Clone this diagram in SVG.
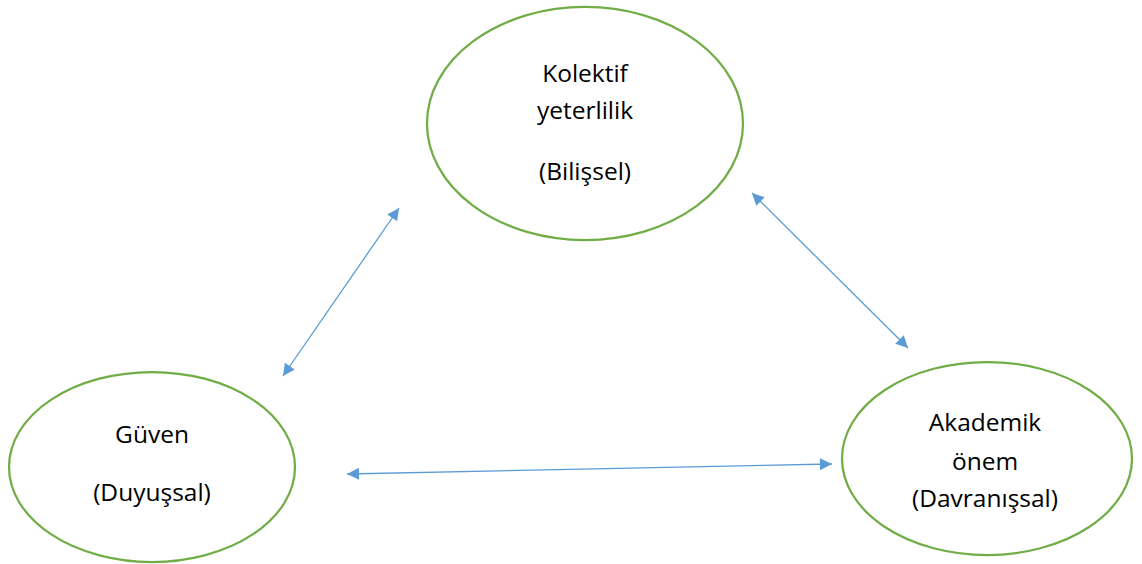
<svg xmlns="http://www.w3.org/2000/svg" width="1142" height="564" viewBox="0 0 1142 564">
<style>
.node{fill:#ffffff;stroke:#70AD47;stroke-width:2.25}
.lbl{font-family:"Open Sans","Liberation Sans",sans-serif;font-size:24.5px;fill:#000000;text-anchor:middle}
.conn{stroke:#5B9BD5;stroke-width:1.3;fill:none}
</style>
<defs>
<marker id="ah" viewBox="0 0 10 10" refX="10" refY="5" markerWidth="15" markerHeight="12" markerUnits="userSpaceOnUse" orient="auto-start-reverse">
<path d="M0,0 L10,5 L0,10 Z" fill="#5B9BD5"/>
</marker>
</defs>
<rect width="1142" height="564" fill="#ffffff"/>
<g id="node-kolektif">
<ellipse class="node" cx="585" cy="123.5" rx="158" ry="116.5"/>
<text class="lbl" x="585" y="82">Kolektif</text>
<text class="lbl" x="585" y="119">yeterlilik</text>
<text class="lbl" x="585" y="180">(Bilişsel)</text>
</g>
<g id="node-guven">
<ellipse class="node" cx="152" cy="467" rx="143" ry="95"/>
<text class="lbl" x="152" y="443">Güven</text>
<text class="lbl" x="152" y="501">(Duyuşsal)</text>
</g>
<g id="node-akademik">
<ellipse class="node" cx="987" cy="458.5" rx="145" ry="96.5"/>
<text class="lbl" x="985" y="431">Akademik</text>
<text class="lbl" x="985" y="470">önem</text>
<text class="lbl" x="985" y="507">(Davranışsal)</text>
</g>
<g id="connectors">
<line class="conn" x1="283" y1="376" x2="399" y2="208" marker-start="url(#ah)" marker-end="url(#ah)"/>
<line class="conn" x1="752" y1="193" x2="908" y2="348" marker-start="url(#ah)" marker-end="url(#ah)"/>
<line class="conn" x1="347" y1="474" x2="832" y2="464" marker-start="url(#ah)" marker-end="url(#ah)"/>
</g>
</svg>
